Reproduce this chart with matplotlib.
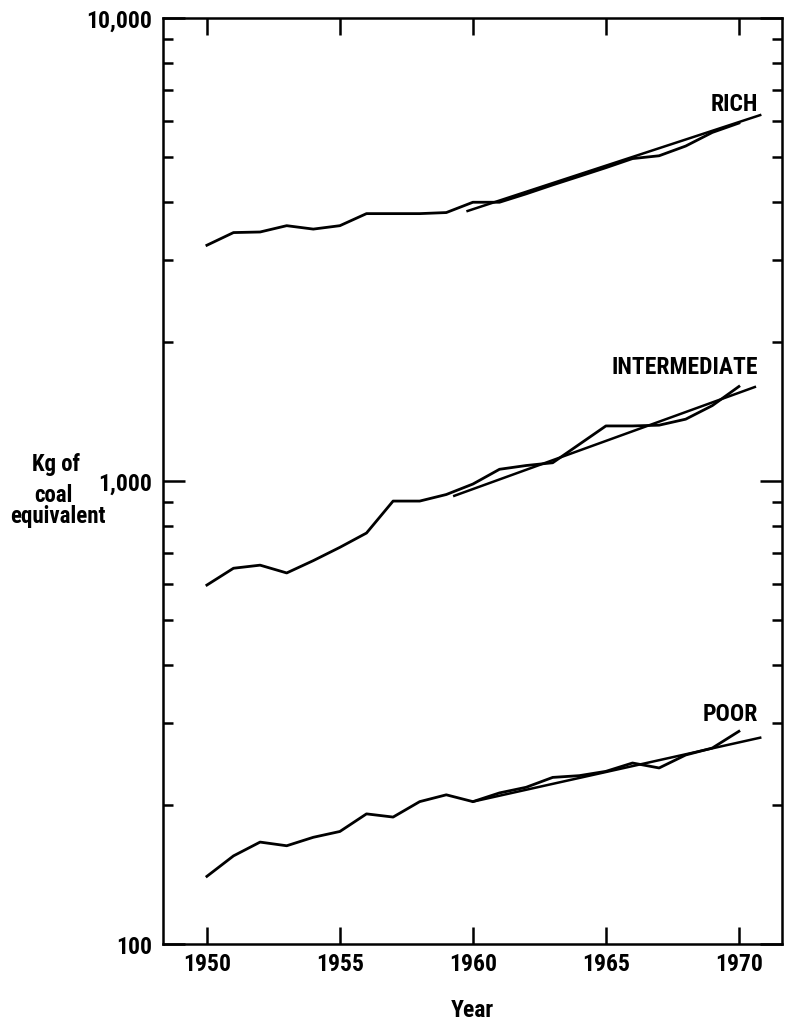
import matplotlib
matplotlib.use("Agg")
import matplotlib.pyplot as plt
from matplotlib.ticker import FixedLocator, FuncFormatter, NullFormatter
from matplotlib import font_manager

names = {f.name for f in font_manager.fontManager.ttflist}
fam = [n for n in ['DejaVu Sans Condensed', 'Liberation Sans Narrow', 'Roboto Condensed',
                   'Open Sans Condensed'] if n in names]
plt.rcParams['font.family'] = fam + ['DejaVu Sans']
plt.rcParams['font.weight'] = 'bold'
condensed = len(fam) > 0
fs = 17 if condensed else 13

years = list(range(1950, 1971))
rich = [3230, 3440, 3450, 3560, 3500, 3560, 3780, 3780, 3780, 3800, 4000,
        4000, 4170, 4360, 4550, 4750, 4970, 5040, 5290, 5660, 5930]
intermediate = [596, 648, 658, 633, 673, 719, 772, 905, 905, 935, 985,
                1060, 1080, 1095, 1200, 1315, 1315, 1320, 1360, 1455, 1600]
poor = [140, 155, 166, 163, 170, 175, 191, 188, 203, 210, 203,
        212, 218, 229, 231, 236, 246, 240, 256, 265, 288]

rich_trend_years = [1959.8, 1970.8]
rich_trend = [3830, 6170]
inter_trend_years = [1959.3, 1970.6]
inter_trend = [929, 1596]
poor_trend_years = [1960.0, 1970.8]
poor_trend = [203, 279]

labels = ["RICH", "INTERMEDIATE", "POOR"]
label_y = [6550, 1771, 314]

x_ticks = [1950, 1955, 1960, 1965, 1970]
y_major = [100, 1000, 10000]

fig = plt.figure(figsize=(7.89, 10.2), dpi=100)
ax = fig.add_axes([163/789, 1 - 945/1020, (782-163)/789, (945-19)/1020])

for s in (rich, intermediate, poor):
    ax.plot(years, s, color='black', lw=2.0)
for ty, tv in ((rich_trend_years, rich_trend), (inter_trend_years, inter_trend),
               (poor_trend_years, poor_trend)):
    ax.plot(ty, tv, color='black', lw=1.8)

ax.set_yscale('log')
ax.set_xlim(1948.35, 1971.62)
ax.set_ylim(100, 10000)

ax.xaxis.set_major_locator(FixedLocator(x_ticks))
ax.yaxis.set_major_locator(FixedLocator(y_major))
minor = [m * d for d in (100, 1000) for m in range(2, 10)]
ax.yaxis.set_minor_locator(FixedLocator(minor))
ax.yaxis.set_major_formatter(FuncFormatter(lambda v, p: f"{int(v):,}"))
ax.yaxis.set_minor_formatter(NullFormatter())

ax.tick_params(axis='x', which='major', direction='in', top=True, bottom=True,
               length=12, width=1.8, labelsize=fs, pad=6)
ax.tick_params(axis='y', which='major', direction='in', left=True, right=True,
               length=16, width=1.8, labelsize=fs, pad=8)
ax.tick_params(axis='y', which='minor', direction='in', left=True, right=True,
               length=7, width=1.8)
for sp in ax.spines.values():
    sp.set_linewidth(1.8)

for lab, yv in zip(labels, label_y):
    ax.text(1970.71, yv, lab, ha='right', va='center', fontsize=fs,
            fontweight='bold')

ax.set_xlabel("Year", fontsize=fs, fontweight='bold', labelpad=16)

yl_fs = fs - 0.5
fig.text(56/789, 1 - 471/1020, "Kg of", ha='center', va='baseline', fontsize=yl_fs, fontweight='bold')
fig.text(53/789, 1 - 502/1020, "coal", ha='center', va='baseline', fontsize=yl_fs, fontweight='bold')
fig.text(58/789, 1 - 523/1020, "equivalent", ha='center', va='baseline', fontsize=yl_fs, fontweight='bold')

fig.savefig("out.png", dpi=100)
